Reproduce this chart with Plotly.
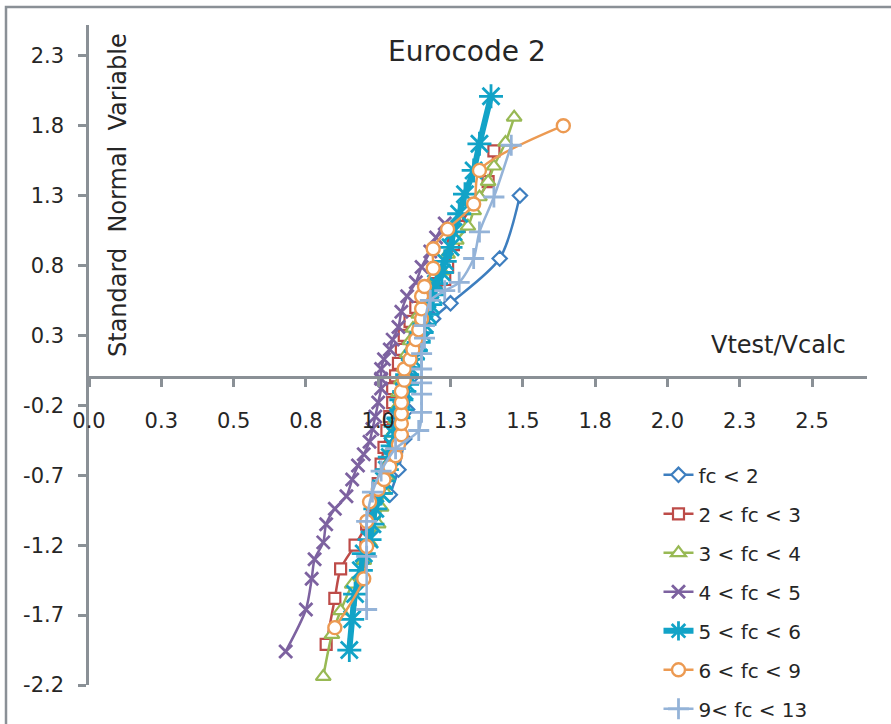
import plotly.graph_objects as go

# ---------------- data ----------------
names = ["fc < 2", "2 < fc < 3", "3 < fc < 4", "4 < fc < 5", "5 < fc < 6", "6 < fc < 9", "9< fc < 13"]

x_fc2 = [1.04, 1.07, 1.09, 1.10, 1.11, 1.12, 1.15, 1.19, 1.25, 1.42, 1.49]
y_fc2 = [-0.84, -0.66, -0.44, -0.23, -0.01, 0.17, 0.31, 0.42, 0.53, 0.85, 1.30]

x_fc3 = [0.82, 0.85, 0.87, 0.92, 0.96, 0.98, 1.00, 1.01, 1.02, 1.03, 1.04, 1.05, 1.05, 1.06,
         1.07, 1.08, 1.09, 1.11, 1.13, 1.16, 1.20, 1.23, 1.24, 1.26, 1.28, 1.38, 1.40]
y_fc3 = [-1.91, -1.58, -1.37, -1.20, -1.05, -0.91, -0.76, -0.62, -0.50, -0.38, -0.28, -0.18, -0.08, 0.01,
         0.10, 0.20, 0.30, 0.40, 0.50, 0.59, 0.67, 0.70, 0.79, 0.95, 1.08, 1.40, 1.62]

x_fc4 = [0.81, 0.84, 0.87, 0.91, 0.95, 0.97, 1.00, 1.01, 1.02, 1.03, 1.04, 1.05, 1.05, 1.06, 1.07, 1.07, 1.08,
         1.09, 1.10, 1.11, 1.12, 1.14, 1.16, 1.18, 1.22, 1.24, 1.27, 1.31, 1.33, 1.35, 1.38, 1.40, 1.44, 1.47]
y_fc4 = [-2.14, -1.84, -1.67, -1.48, -1.31, -1.18, -1.05, -0.93, -0.81, -0.71, -0.60, -0.50, -0.40, -0.30, -0.20,
         -0.11, -0.02, 0.07, 0.17, 0.26, 0.35, 0.45, 0.55, 0.65, 0.76, 0.88, 0.98, 1.08, 1.19, 1.29, 1.40, 1.51,
         1.68, 1.86]

x_fc5 = [0.68, 0.75, 0.77, 0.78, 0.81, 0.82, 0.85, 0.89, 0.91, 0.93, 0.95, 0.97, 0.98, 0.99, 1.00, 1.01, 1.01,
         1.01, 1.02, 1.04, 1.05, 1.07, 1.08, 1.10, 1.13, 1.15, 1.18, 1.20, 1.23]
y_fc5 = [-1.96, -1.66, -1.44, -1.30, -1.18, -1.05, -0.94, -0.85, -0.73, -0.63, -0.55, -0.46, -0.37, -0.28, -0.18,
         -0.08, -0.01, 0.06, 0.13, 0.20, 0.27, 0.36, 0.47, 0.58, 0.68, 0.79, 0.90, 1.00, 1.10]

x_fc6 = [0.90, 0.91, 0.92, 0.94, 0.95, 0.97, 0.98, 0.99, 1.01, 1.02, 1.03, 1.04, 1.05, 1.06, 1.06, 1.07, 1.08,
         1.08, 1.09, 1.10, 1.10, 1.11, 1.12, 1.13, 1.14, 1.15, 1.16, 1.17, 1.18, 1.19, 1.20, 1.22, 1.23, 1.25,
         1.26, 1.28, 1.30, 1.33, 1.35, 1.39]
y_fc6 = [-1.95, -1.73, -1.55, -1.38, -1.26, -1.16, -1.05, -0.94, -0.83, -0.74, -0.66, -0.57, -0.49, -0.42, -0.35,
         -0.29, -0.23, -0.16, -0.10, -0.05, 0.02, 0.07, 0.13, 0.19, 0.25, 0.32, 0.38, 0.45, 0.52, 0.59, 0.67,
         0.75, 0.83, 0.93, 1.04, 1.17, 1.31, 1.48, 1.67, 2.01]

x_fc9 = [0.85, 0.95, 0.96, 0.96, 0.97, 1.00, 1.02, 1.04, 1.06, 1.07, 1.08, 1.08, 1.08, 1.08, 1.08, 1.09, 1.09,
         1.11, 1.12, 1.13, 1.14, 1.15, 1.15, 1.15, 1.16, 1.19, 1.19, 1.24, 1.33, 1.35, 1.64]
y_fc9 = [-1.79, -1.44, -1.21, -1.03, -0.89, -0.80, -0.73, -0.64, -0.56, -0.48, -0.41, -0.33, -0.26, -0.18, -0.10,
         -0.02, 0.06, 0.13, 0.20, 0.27, 0.34, 0.42, 0.49, 0.58, 0.65, 0.78, 0.92, 1.06, 1.24, 1.48, 1.80]

x_fc13 = [0.96, 0.96, 0.96, 0.98, 1.01, 1.06, 1.14, 1.15, 1.15, 1.15, 1.15, 1.15, 1.16, 1.16, 1.18, 1.23, 1.28,
          1.33, 1.35, 1.40, 1.46]
y_fc13 = [-1.66, -1.28, -1.03, -0.82, -0.67, -0.51, -0.38, -0.25, -0.12, -0.04, 0.06, 0.17, 0.28, 0.37, 0.55,
          0.62, 0.68, 0.85, 1.04, 1.29, 1.66]

x_tickvals = [0, 0.25, 0.5, 0.75, 1.0, 1.25, 1.5, 1.75, 2.0, 2.25, 2.5]
x_ticktext = ["0.0", "0.3", "0.5", "0.8", "1.0", "1.3", "1.5", "1.8", "2.0", "2.3", "2.5"]
y_tickvals = [-2.2, -1.7, -1.2, -0.7, -0.2, 0.3, 0.8, 1.3, 1.8, 2.3]
y_ticktext = ["-2.2", "-1.7", "-1.2", "-0.7", "-0.2", "0.3", "0.8", "1.3", "1.8", "2.3"]

# ---------------- styles ----------------
FONT = "DejaVu Sans"
TXT = "#262626"
AX = "#8a9096"

series = [
    (x_fc2, y_fc2, "#3d7ebf", 2.5, "diamond", 11, 2.2),
    (x_fc3, y_fc3, "#bd4b48", 2.5, "square", 11, 2.2),
    (x_fc4, y_fc4, "#98b954", 2.5, "triangle-up", 13, 2.2),
    (x_fc5, y_fc5, "#7d62a0", 2.5, "x-thin", 13, 2.8),
    (x_fc6, y_fc6, "#12a3c7", 6, "asterisk", 20, 2.8),
    (x_fc9, y_fc9, "#ec9a52", 2.5, "circle", 13, 2.4),
    (x_fc13, y_fc13, "#94b3d8", 2.5, "cross-thin", 15, 2.8),
]

fig = go.Figure()
for i, (xs, ys, col, lw, sym, ms, mlw) in enumerate(series):
    fig.add_trace(go.Scatter(
        x=xs, y=ys, name=names[i], mode="lines+markers",
        legendgroup=f"g{i}",
        line=dict(color=col, width=lw, shape="spline", smoothing=0.8),
        marker=dict(symbol=sym, size=ms, color="white", line=dict(color=col, width=mlw)),
    ))

ymin, ymax = -2.2, 2.52
fig.update_layout(
    width=891, height=724,
    margin=dict(l=89, r=24, t=25, b=39, autoexpand=False),
    paper_bgcolor="white", plot_bgcolor="white",
    font=dict(family=FONT, color=TXT, size=20),
    showlegend=True,
    legend=dict(
        x=0.732, y=0.348, xanchor="left", yanchor="top",
        font=dict(family=FONT, size=20, color=TXT),
        tracegroupgap=10, bgcolor="rgba(0,0,0,0)",
    ),
    xaxis=dict(
        range=[0, 2.69], tickvals=x_tickvals, ticktext=x_ticktext,
        showgrid=False, zeroline=False, showline=True, linecolor=AX, linewidth=2.5,
        ticks="outside", ticklen=8, tickwidth=2.5, tickcolor=AX,
        anchor="free", position=(0 - ymin) / (ymax - ymin),
        ticklabelstandoff=16,
        tickfont=dict(family=FONT, size=21, color=TXT),
    ),
    yaxis=dict(
        range=[ymin, ymax], tickvals=y_tickvals, ticktext=y_ticktext,
        showgrid=False, zeroline=False, showline=True, linecolor=AX, linewidth=2.5,
        ticks="outside", ticklen=8, tickwidth=2.5, tickcolor=AX,
        ticklabelstandoff=10,
        tickfont=dict(family=FONT, size=21, color=TXT),
    ),
    shapes=[dict(type="rect", xref="paper", yref="paper",
                 x0=(6 - 89) / 778, x1=(905 - 89) / 778,
                 y0=(685 - 740) / 660, y1=(685 - 7) / 660,
                 line=dict(color=AX, width=2.5), fillcolor="rgba(0,0,0,0)", layer="below")],
    annotations=[
        dict(text="Eurocode 2", xref="paper", yref="paper", x=(467 - 89) / 778, y=(685 - 51) / 660,
             showarrow=False, font=dict(family=FONT, size=28, color=TXT), xanchor="center", yanchor="middle"),
        dict(text="Vtest/Vcalc", xref="paper", yref="paper", x=(778 - 89) / 778, y=(685 - 345) / 660,
             showarrow=False, font=dict(family=FONT, size=24, color=TXT), xanchor="center", yanchor="middle"),
        dict(text="Standard  Normal  Variable", xref="paper", yref="paper", x=(118 - 89) / 778,
             y=(685 - 195) / 660, textangle=-90,
             showarrow=False, font=dict(family=FONT, size=24, color=TXT), xanchor="center", yanchor="middle"),
    ],
)

fig.write_html("out.html")
